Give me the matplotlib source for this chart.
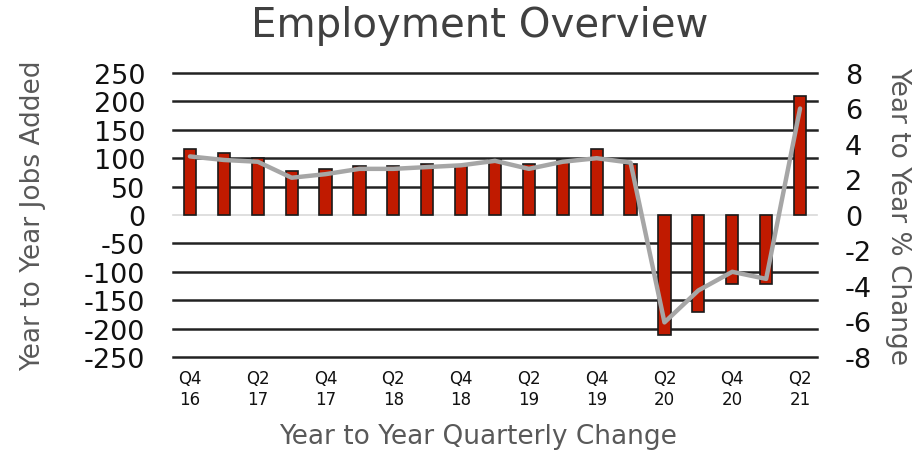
import numpy as np
import matplotlib
matplotlib.use("Agg")
import matplotlib.pyplot as plt

plt.rcParams["axes.unicode_minus"] = False

# Data
quarters = ["Q4 16", "Q1 17", "Q2 17", "Q3 17", "Q4 17", "Q1 18", "Q2 18", "Q3 18",
            "Q4 18", "Q1 19", "Q2 19", "Q3 19", "Q4 19", "Q1 20", "Q2 20", "Q3 20",
            "Q4 20", "Q1 21", "Q2 21"]
jobs_added = [116, 110, 100, 77, 81, 87, 87, 90, 88, 97, 90, 96, 116, 90,
              -211, -171, -122, -122, 210]
pct_change = [3.3, 3.1, 3.0, 2.1, 2.3, 2.6, 2.6, 2.7, 2.8, 3.05, 2.6, 3.0, 3.2, 2.95,
              -6.05, -4.25, -3.2, -3.6, 6.0]
left_ticks = [250, 200, 150, 100, 50, 0, -50, -100, -150, -200, -250]
right_ticks = [8, 6, 4, 2, 0, -2, -4, -6, -8]

x = np.arange(len(quarters))
shown = x[::2]
shown_labels = [quarters[i].replace(" ", "\n") for i in shown]

fig = plt.figure(figsize=(9.17, 4.56), dpi=100)
ax = fig.add_axes([173 / 917, 1 - 358 / 456, (817 - 173) / 917, (358 - 74) / 456])

ax.bar(x, jobs_added, width=0.36, color="#C01A00", edgecolor="#1a1a1a",
       linewidth=1.2, zorder=2)
ax.set_xlim(-0.5, 18.5)
ax.set_ylim(-250, 250)
ax.set_yticks(left_ticks)
ax.set_xticks(shown)
ax.set_xticklabels(shown_labels, fontsize=12, linespacing=1.15)
ax.tick_params(axis="y", length=0, pad=20, labelsize=19.5, labelcolor="#111111")
ax.tick_params(axis="x", length=0, pad=9, labelcolor="#111111")

# horizontal gridlines, the zero line is light gray
for v in left_ticks:
    ax.axhline(v, color="#D9D9D9" if v == 0 else "#222222",
               lw=1.2 if v == 0 else 1.8, zorder=1, clip_on=False)
for s in ax.spines.values():
    s.set_visible(False)

ax.set_ylabel("Year to Year Jobs Added", fontsize=19, color="#595959")
ax.yaxis.set_label_coords(-(173 - 46) / 644, 0.5)
ax.set_xlabel("Year to Year Quarterly Change", fontsize=19, color="#595959")
ax.xaxis.set_label_coords((478 - 173) / 644, -(424 - 358) / 284)

ax2 = ax.twinx()
ax2.plot(x, pct_change, color="#A6A6A6", lw=3.2, solid_joinstyle="round",
         solid_capstyle="round", zorder=3)
ax2.set_ylim(-8, 8)
ax2.set_yticks(right_ticks)
ax2.tick_params(axis="y", length=0, pad=20, labelsize=19.5, labelcolor="#111111")
for s in ax2.spines.values():
    s.set_visible(False)
ax2.set_ylabel("Year to Year % Change", fontsize=19, color="#595959", rotation=270)
ax2.yaxis.set_label_coords(1 + (911 - 817) / 644, 0.5)

fig.text(480 / 917, 1 - 26 / 456, "Employment Overview", fontsize=29,
         color="#404040", ha="center", va="center")

fig.savefig("out.png", dpi=100)
